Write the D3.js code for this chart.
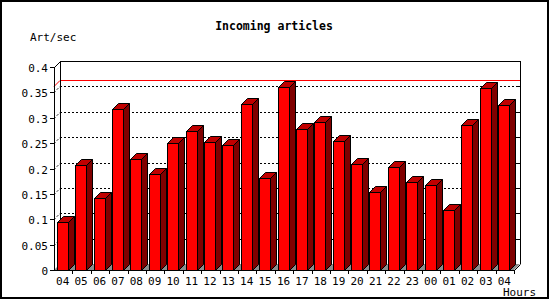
<!DOCTYPE html>
<html>
<head>
<meta charset="utf-8">
<script src="https://cdn.jsdelivr.net/npm/d3@7"></script>
<style>
  body { margin: 0; background: #fff; }
  text { font-family: "DejaVu Sans Mono", monospace; font-size: 11px; fill: #000; }
</style>
</head>
<body>
<script>
// data
const hours = ["04","05","06","07","08","09","10","11","12","13","14","15","16",
               "17","18","19","20","21","22","23","00","01","02","03","04"];
const rates = [0.094, 0.206, 0.141, 0.317, 0.219, 0.189, 0.250, 0.274, 0.252, 0.246,
               0.328, 0.181, 0.360, 0.277, 0.292, 0.254, 0.208, 0.153, 0.202, 0.173,
               0.167, 0.118, 0.285, 0.358, 0.325];
const yTicks = [0, 0.05, 0.1, 0.15, 0.2, 0.25, 0.3, 0.35, 0.4];

const width = 550, height = 300;
const depth = 6;  // 3d offset
const plotLeft = 54, plotRight = 514, plotBottom = 270, plotTop = 67;

const svg = d3.select("body").append("svg")
    .attr("width", width)
    .attr("height", height);

// frame
svg.append("rect")
    .attr("x", 1).attr("y", 1)
    .attr("width", width - 3).attr("height", height - 3)
    .attr("fill", "#fff")
    .attr("stroke", "#000")
    .attr("stroke-width", 2);

const x = d3.scaleBand()
    .domain(d3.range(hours.length))
    .range([plotLeft, plotRight])
    .padding(0);

const y = d3.scaleLinear()
    .domain([0, 0.4])
    .range([plotBottom, plotTop]);

// floor
svg.append("polygon")
    .attr("points", [[plotLeft, plotBottom], [plotRight, plotBottom], [plotRight + depth, plotBottom - depth], [plotLeft + depth, plotBottom - depth]].join(" "))
    .attr("fill", "#8c8c8c");

// grid on back wall + side
yTicks.slice(1, -1).forEach(v => {
    const yy = Math.round(y(v)) + 0.5;
    svg.append("line")
        .attr("x1", plotLeft + depth).attr("x2", plotRight + depth)
        .attr("y1", yy - depth).attr("y2", yy - depth)
        .attr("stroke", "#000").attr("stroke-dasharray", "2,2")
        .attr("shape-rendering", "crispEdges");
    svg.append("line")
        .attr("x1", plotLeft).attr("x2", plotLeft + depth)
        .attr("y1", yy).attr("y2", yy - depth)
        .attr("stroke", "#000").attr("stroke-dasharray", "2,2");
    // small ticks on right wall
    svg.append("line")
        .attr("x1", plotRight + depth - 3).attr("x2", plotRight + depth)
        .attr("y1", yy - depth).attr("y2", yy - depth)
        .attr("stroke", "#000").attr("shape-rendering", "crispEdges");
});

// max line
const maxY = Math.round(y(d3.max(rates))) - 0.5;
svg.append("line")
    .attr("x1", plotLeft + depth).attr("x2", plotRight + depth)
    .attr("y1", maxY - depth).attr("y2", maxY - depth)
    .attr("stroke", "#ff0000").attr("shape-rendering", "crispEdges");
svg.append("line")
    .attr("x1", plotLeft).attr("x2", plotLeft + depth)
    .attr("y1", maxY).attr("y2", maxY - depth)
    .attr("stroke", "#ff0000");

// back wall outline
svg.append("path")
    .attr("d", `M${plotLeft + depth + 0.5},${plotBottom - depth}V${plotTop - depth + 0.5}H${plotRight + depth + 0.5}V${plotBottom - depth}`)
    .attr("fill", "none").attr("stroke", "#000").attr("shape-rendering", "crispEdges");
svg.append("line")
    .attr("x1", plotLeft + 0.5).attr("y1", plotTop + 0.5)
    .attr("x2", plotLeft + depth + 0.5).attr("y2", plotTop - depth + 0.5)
    .attr("stroke", "#000");

// bars
const bw = x.bandwidth();
const barW = 11, barOff = 2.7;
rates.forEach((v, i) => {
    const x0 = Math.round(x(i) + barOff) + 0.5;
    const x1 = x0 + barW;
    const y0 = plotBottom + 0.5;
    const y1 = Math.round(y(v)) + 0.5;
    const bar = svg.append("g").attr("stroke", "#000").attr("stroke-width", 1);
    // side
    bar.append("polygon")
        .attr("points", [[x1, y0], [x1 + depth, y0 - depth], [x1 + depth, y1 - depth], [x1, y1]].join(" "))
        .attr("fill", "#800000");
    // top
    bar.append("polygon")
        .attr("points", [[x0, y1], [x0 + depth, y1 - depth], [x1 + depth, y1 - depth], [x1, y1]].join(" "))
        .attr("fill", "#c00000");
    // front
    bar.append("rect")
        .attr("x", x0).attr("y", y1)
        .attr("width", barW).attr("height", y0 - y1)
        .attr("fill", "#ff0000");
});

// axes
svg.append("line")
    .attr("x1", plotLeft + 0.5).attr("x2", plotLeft + 0.5)
    .attr("y1", plotTop).attr("y2", plotBottom + 1)
    .attr("stroke", "#000").attr("shape-rendering", "crispEdges");
svg.append("line")
    .attr("x1", plotLeft).attr("x2", plotRight + 1)
    .attr("y1", plotBottom + 0.5).attr("y2", plotBottom + 0.5)
    .attr("stroke", "#000").attr("shape-rendering", "crispEdges");
svg.append("line")
    .attr("x1", plotRight + 0.5).attr("y1", plotBottom + 0.5)
    .attr("x2", plotRight + depth + 0.5).attr("y2", plotBottom - depth + 0.5)
    .attr("stroke", "#000");

// y ticks and labels
yTicks.forEach(v => {
    const yy = Math.round(y(v)) + 0.5;
    svg.append("line")
        .attr("x1", plotLeft - 4).attr("x2", plotLeft)
        .attr("y1", yy).attr("y2", yy)
        .attr("stroke", "#000").attr("shape-rendering", "crispEdges");
    svg.append("text")
        .attr("x", 48).attr("y", yy + 4)
        .attr("text-anchor", "end")
        .text(d3.format("")(v));
});

// x ticks and labels
hours.forEach((h, i) => {
    const xx = Math.round(x(i) + bw) + 0.5;
    svg.append("line")
        .attr("x1", xx).attr("x2", xx)
        .attr("y1", plotBottom).attr("y2", plotBottom + 4)
        .attr("stroke", "#000").attr("shape-rendering", "crispEdges");
    svg.append("text")
        .attr("x", x(i) + bw / 2 - 0.5).attr("y", 285)
        .attr("text-anchor", "middle")
        .text(h);
});

// titles
svg.append("text")
    .attr("x", 274).attr("y", 30)
    .attr("text-anchor", "middle")
    .style("font-weight", "bold")
    .style("font-size", "11.5px")
    .text("Incoming articles");

svg.append("text")
    .attr("x", 30).attr("y", 41)
    .text("Art/sec");

svg.append("text")
    .attr("x", 503).attr("y", 296)
    .text("Hours");
</script>
</body>
</html>
